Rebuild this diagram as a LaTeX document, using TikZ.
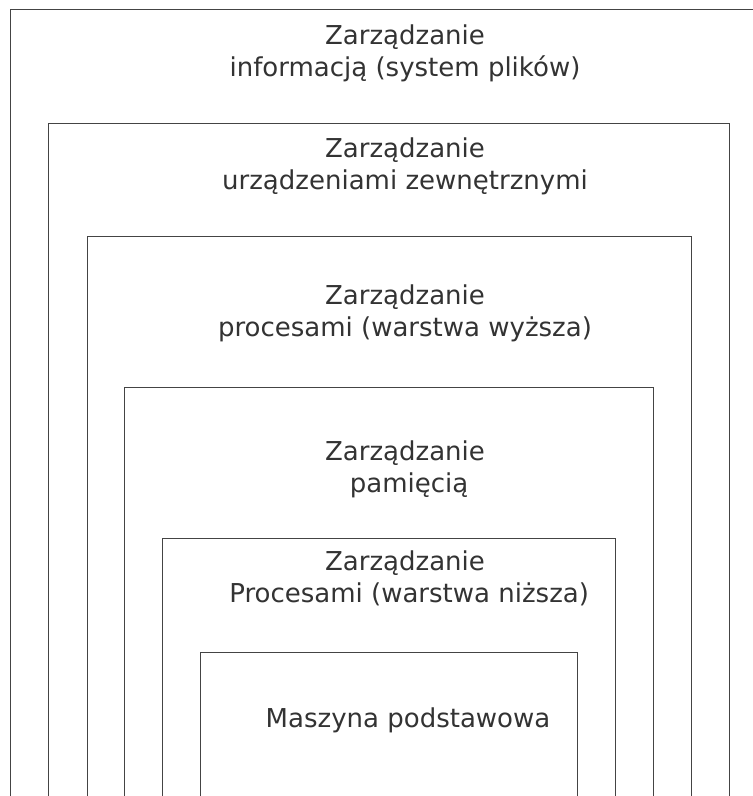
\documentclass[tikz,border=0pt]{standalone}
\usepackage{fontspec}
\setmainfont{DejaVu Sans}
\definecolor{txt}{HTML}{333333}
\definecolor{ln}{HTML}{444444}
\tikzset{
  layerline/.style={draw=ln, line width=1pt},
  layertext/.style={align=center, text=txt, inner sep=0pt, anchor=base,
    font=\fontsize{26}{32}\selectfont}
}
\begin{document}
\begin{tikzpicture}[x=1pt,y=-1pt]
\useasboundingbox (0,0) rectangle (753,796);
\clip (0,0) rectangle (753,796);
\fill[white] (0,0) rectangle (753,796);
\draw[layerline] (10,820) -- (10,9) -- (780,9);
\draw[layerline] (48,820) -- (48,123) -- (729,123) -- (729,820);
\draw[layerline] (87,820) -- (87,236) -- (691,236) -- (691,820);
\draw[layerline] (124,820) -- (124,387) -- (653,387) -- (653,820);
\draw[layerline] (162,820) -- (162,538) -- (615,538) -- (615,820);
\draw[layerline] (200,820) -- (200,652) -- (577,652) -- (577,820);
\node[layertext] (t1) at (405,76) {Zarządzanie\\informacją (system plików)};
\node[layertext] (t2) at (405,189) {Zarządzanie\\urządzeniami zewnętrznymi};
\node[layertext] (t3) at (405,336) {Zarządzanie\\procesami (warstwa wyższa)};
\node[layertext] (t4) at (405,492) {Zarządzanie\\\ pamięcią};
\node[layertext] (t5) at (405,602) {Zarządzanie\\\ Procesami (warstwa niższa)};
\node[layertext] (t6) at (408,727) {Maszyna podstawowa};
\end{tikzpicture}
\end{document}
